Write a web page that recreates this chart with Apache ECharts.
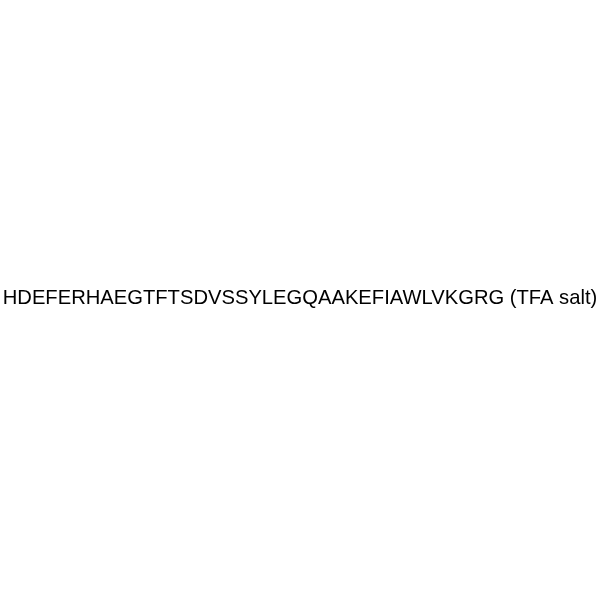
<!DOCTYPE html>
<html>
<head>
<meta charset="utf-8">
<script src="https://cdn.jsdelivr.net/npm/echarts@6/dist/echarts.min.js"></script>
<style>
html,body{margin:0;padding:0;background:#fff;}
#chart{width:600px;height:600px;}
</style>
</head>
<body>
<div id="chart"></div>
<script>
var labels = ["HDEFERHAEGTFTSDVSSYLEGQAAKEFIAWLVKGRG (TFA salt)"];
var chart = echarts.init(document.getElementById('chart'), null, {renderer: 'canvas'});
chart.setOption({
  backgroundColor: '#ffffff',
  animation: false,
  graphic: [{
    type: 'text',
    left: 'center',
    top: 288,
    style: {
      text: labels[0],
      fontFamily: '"Liberation Sans", Arial, sans-serif',
      fontSize: 20.2,
      fill: '#000000'
    }
  }]
});
</script>
</body>
</html>
